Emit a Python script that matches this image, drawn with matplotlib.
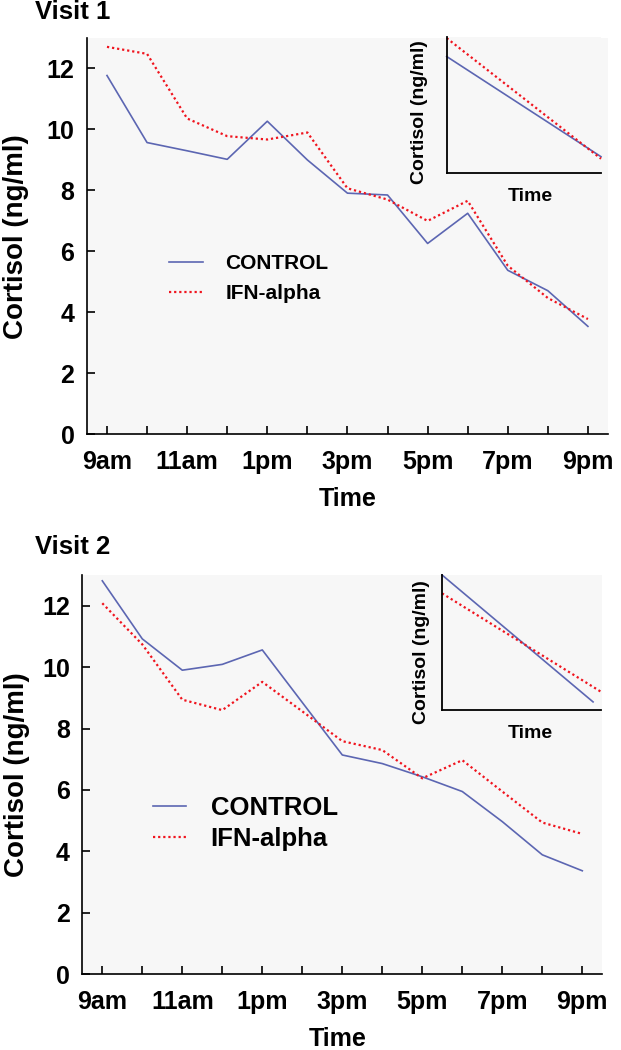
import matplotlib
matplotlib.use("Agg")
import matplotlib.pyplot as plt

plt.rcParams['font.family'] = ['Liberation Sans', 'DejaVu Sans']
plt.rcParams['font.weight'] = 'bold'

# hours after 9am, labels on every second hour
hours = list(range(13))
hour_labels = ['9am', '', '11am', '', '1pm', '', '3pm', '', '5pm', '', '7pm', '', '9pm']
y_ticks = [0, 2, 4, 6, 8, 10, 12]

# Visit 1 cortisol (ng/ml)
v1_control = [11.77, 9.57, 9.30, 9.02, 10.27, 9.00, 7.91, 7.85, 6.26, 7.25, 5.38, 4.71, 3.54]
v1_ifn = [12.71, 12.48, 10.36, 9.78, 9.67, 9.90, 8.07, 7.70, 7.00, 7.66, 5.53, 4.47, 3.78]

# Visit 2 cortisol (ng/ml)
v2_control = [12.81, 10.92, 9.90, 10.09, 10.56, 8.85, 7.14, 6.86, 6.43, 5.95, 4.97, 3.89, 3.37]
v2_ifn = [12.08, 10.74, 8.94, 8.60, 9.52, 8.56, 7.59, 7.30, 6.38, 6.97, 5.95, 4.94, 4.57]

# schematic trend lines in the insets
v1_inset_x = [0, 1]
v1_inset_control = [0.855, 0.12]
v1_inset_ifn = [0.99, 0.105]
v2_inset_ctrl_x = [0, 0.95]
v2_inset_ifn_x = [0, 1]
v2_inset_control = [1.0, 0.06]
v2_inset_ifn = [0.864, 0.135]

BLUE = '#5c66b2'
RED = '#f0141e'
BG = '#f7f7f7'
DOT = (0, (1, 1.3))

fig = plt.figure(figsize=(6.21, 10.5), dpi=100)


def main_panel(rect, control, ifn, leg_pos, leg_size, leg_handle, leg_pad, leg_space, ylab_x, xlab_x):
    ax = fig.add_axes(rect)
    ax.set_facecolor(BG)
    ax.plot(hours, control, color=BLUE, lw=1.2, label='CONTROL')
    ax.plot(hours, ifn, color=RED, lw=1.6, linestyle=DOT, label='IFN-alpha')
    ax.set_xlim(-0.5, 12.5)
    ax.set_ylim(0, 13)
    ax.set_xticks(hours)
    ax.set_xticklabels(hour_labels)
    ax.set_yticks(y_ticks)
    for s in ['top', 'right']:
        ax.spines[s].set_visible(False)
    for s in ['left', 'bottom']:
        ax.spines[s].set_linewidth(1.2)
    ax.tick_params(axis='both', direction='in', length=6, width=1.2, labelsize=18)
    ax.tick_params(axis='x', pad=11)
    ax.tick_params(axis='y', pad=9)
    ax.set_xlabel('Time', fontsize=18, fontweight='bold')
    ax.set_ylabel('Cortisol (ng/ml)', fontsize=20, fontweight='bold')
    ax.yaxis.set_label_coords(ylab_x, 0.5)
    ax.xaxis.set_label_coords(xlab_x, -0.133)
    ax.legend(loc='upper left', bbox_to_anchor=leg_pos, frameon=False,
              handlelength=leg_handle, handletextpad=leg_pad,
              labelspacing=leg_space, borderpad=0, borderaxespad=0,
              prop={'weight': 'bold', 'size': leg_size})
    return ax


def inset_panel(rect, cx, cy, ix, iy, ylab_x, ylab_y, xlab_x):
    ax = fig.add_axes(rect)
    ax.set_facecolor(BG)
    ax.plot(cx, cy, color=BLUE, lw=1.2, clip_on=False)
    ax.plot(ix, iy, color=RED, lw=1.6, linestyle=DOT, clip_on=False)
    ax.set_xlim(0, 1)
    ax.set_ylim(0, 1)
    ax.set_xticks([])
    ax.set_yticks([])
    for s in ['top', 'right']:
        ax.spines[s].set_visible(False)
    for s in ['left', 'bottom']:
        ax.spines[s].set_linewidth(1.3)
    ax.set_ylabel('Cortisol (ng/ml)', fontsize=14, fontweight='bold')
    ax.set_xlabel('Time', fontsize=14, fontweight='bold')
    ax.yaxis.set_label_coords(ylab_x, ylab_y)
    ax.xaxis.set_label_coords(xlab_x, -0.11)
    return ax


main_panel([0.140, 0.5864, 0.839, 0.3774], v1_control, v1_ifn,
           (0.158, 0.455), 15, 1.6, 1.1, 0.55, -0.111, 0.501)
inset_panel([0.7193, 0.8352, 0.2485, 0.1298], v1_inset_x, v1_inset_control,
            v1_inset_x, v1_inset_ifn, -0.121, 0.444, 0.54)

main_panel([0.1325, 0.0721, 0.8374, 0.3803], v2_control, v2_ifn,
           (0.136, 0.447), 18.5, 1.28, 0.96, 0.28, -0.10, 0.492)
inset_panel([0.7118, 0.3238, 0.256, 0.1286], v2_inset_ctrl_x, v2_inset_control,
            v2_inset_ifn_x, v2_inset_ifn, -0.075, 0.432, 0.553)

fig.text(35 / 621, 1 - 19 / 1050, 'Visit 1', fontsize=18.5, fontweight='bold', va='baseline')
fig.text(35 / 621, 1 - 554 / 1050, 'Visit 2', fontsize=18.5, fontweight='bold', va='baseline')

fig.savefig('out.png', dpi=100)
